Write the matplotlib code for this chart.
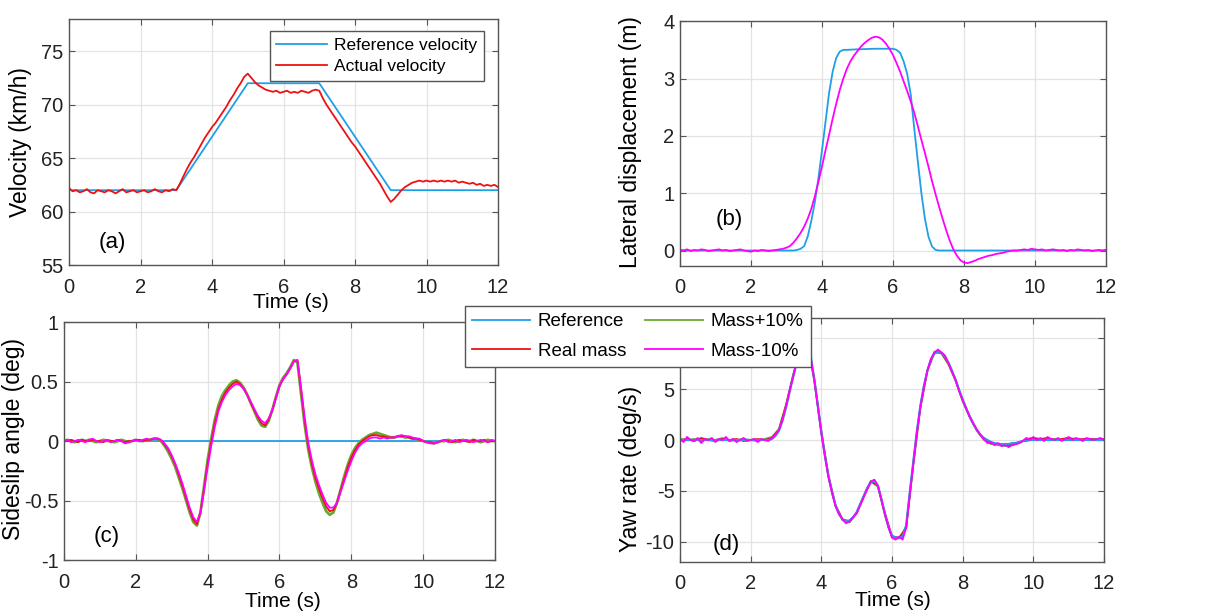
import numpy as np
import matplotlib
matplotlib.use('Agg')
import matplotlib.pyplot as plt

plt.rcParams['font.family'] = ['Liberation Sans', 'DejaVu Sans']
plt.rcParams['axes.unicode_minus'] = False

# time base, 0.1 s samples
t = np.round(np.arange(121) * 0.1, 1)
# coarse time base, 0.2 s samples
tc = np.round(np.arange(61) * 0.2, 1)

# (a) velocity
vel_ref_t = [0, 3, 5, 7, 9, 12]
vel_ref = [62, 62, 72, 72, 62, 62]
vel_start = 55.0
vel_act = [62.2, 61.9, 62.0, 61.8, 61.9, 62.1, 61.8, 61.7, 62.0, 61.9,
           61.8, 62.0, 61.9, 61.7, 61.9, 62.1, 61.8, 61.9, 62.0, 61.8,
           61.9, 62.0, 61.8, 61.9, 62.1, 61.9, 61.8, 62.0, 61.9, 62.1,
           62.0,
           62.6, 63.3, 64.0, 64.6, 65.1, 65.7, 66.3, 66.9, 67.4, 67.9,
           68.3, 68.8, 69.3, 69.8, 70.4, 70.9, 71.5, 72.0, 72.6, 72.9,
           72.5, 72.1, 71.8, 71.6, 71.4, 71.3, 71.2, 71.3, 71.1, 71.2,
           71.3, 71.1, 71.2, 71.1, 71.3, 71.2, 71.1, 71.3, 71.4, 71.3,
           70.6, 70.0, 69.5, 69.0, 68.5, 68.0, 67.5, 67.0, 66.5, 66.1,
           65.6, 65.1, 64.6, 64.1, 63.6, 63.1, 62.6, 62.0, 61.4, 60.9,
           61.2, 61.6, 62.0, 62.3, 62.5, 62.7, 62.8, 62.9, 62.8, 62.9,
           62.8, 62.9, 62.8, 62.9, 62.8, 62.9, 62.8, 62.9, 62.7, 62.8,
           62.7, 62.6, 62.7, 62.5, 62.6, 62.4, 62.5, 62.4, 62.5, 62.3]

# (b) lateral displacement
lat_ref_t = [0, 3.2, 3.3, 3.4, 3.5, 3.6, 3.7, 3.8, 3.9, 4.0, 4.1, 4.2, 4.3, 4.4,
             4.5, 4.6, 4.7, 5.0, 5.5, 6.0, 6.1, 6.2, 6.3, 6.4, 6.5, 6.6, 6.7,
             6.8, 6.9, 7.0, 7.1, 7.2, 7.3, 12]
lat_ref = [0, 0, 0.01, 0.03, 0.08, 0.25, 0.52, 0.85, 1.27, 1.75, 2.25, 2.75,
           3.12, 3.36, 3.47, 3.5, 3.5, 3.51, 3.52, 3.52, 3.5, 3.45, 3.3, 3.08,
           2.72, 2.12, 1.55, 1.0, 0.55, 0.24, 0.07, 0.01, 0, 0]
lat_act = [0.01, 0.00, 0.02, -0.01, 0.01, 0.00, 0.02, 0.01, -0.01, 0.00,
           0.01, 0.02, 0.00, 0.01, -0.01, 0.00, 0.01, 0.02, 0.00, -0.01,
           -0.02, 0.00, -0.01, 0.01, 0.00, -0.01, 0.00, 0.01, 0.02, 0.03,
           0.05, 0.08, 0.14, 0.22, 0.31, 0.42, 0.56, 0.73, 0.95, 1.2,
           1.47, 1.75, 2.02, 2.3, 2.56, 2.8, 3.0, 3.17, 3.3, 3.4,
           3.48, 3.56, 3.62, 3.67, 3.71, 3.73, 3.72, 3.68, 3.61, 3.52,
           3.41, 3.27, 3.12, 2.95, 2.78, 2.6, 2.4, 2.17, 1.93, 1.7,
           1.46, 1.21, 0.98, 0.76, 0.55, 0.35, 0.17, 0.02, -0.09, -0.17,
           -0.21, -0.22, -0.2, -0.18, -0.15, -0.13, -0.11, -0.09, -0.08, -0.06,
           -0.05, -0.04, -0.02, -0.01, 0.0, 0.0, 0.01, 0.02, 0.01, 0.03,
           0.02,
           0.01, 0.02, 0.00, 0.01, 0.02, 0.01, 0.00, 0.01, -0.01, 0.01,
           0.00, 0.02, 0.01, 0.00, 0.01, -0.01, 0.00, 0.01, 0.00, 0.01]

# (c) sideslip angle
beta_ref = [0.0] * 121
beta_real = [0.00, 0.00, 0.01, 0.00, -0.01, 0.01, 0.00, 0.00, 0.01, 0.00,
             0.00, -0.01, 0.01, 0.00, 0.00, 0.01, 0.00, -0.01, 0.00, 0.00,
             0.01, 0.01, 0.00, 0.01, 0.01, 0.02,
             0.02, 0.01, -0.03, -0.07, -0.13, -0.2, -0.29, -0.38, -0.48, -0.58,
             -0.66, -0.7, -0.6, -0.4, -0.19, -0.01, 0.15, 0.27, 0.35, 0.41,
             0.45, 0.48, 0.5, 0.48, 0.44, 0.39, 0.32, 0.26, 0.2, 0.15,
             0.13, 0.18, 0.26, 0.36, 0.46, 0.52, 0.56, 0.61, 0.67, 0.68,
             0.43, 0.17, -0.04, -0.19, -0.31, -0.4, -0.48, -0.55, -0.59, -0.58,
             -0.52, -0.42, -0.32, -0.22, -0.14, -0.08, -0.03, 0.0, 0.02, 0.04,
             0.05, 0.05, 0.04, 0.04, 0.03, 0.03, 0.03, 0.04, 0.04, 0.04,
             0.03, 0.02, 0.02, 0.01, 0.0, -0.01, -0.01, -0.02, -0.01, 0.0,
             0.01, 0.0, -0.01, 0.0, 0.01, 0.0, 0.0, -0.01, 0.01, 0.0,
             0.0, 0.01, -0.01, 0.0, 0.0]
beta_plus = [0.00, 0.01, 0.00, -0.01, 0.00, 0.01, 0.00, 0.01, 0.00, -0.01,
             0.00, 0.01, 0.00, 0.00, -0.01, 0.00, 0.01, 0.00, -0.01, 0.00,
             0.01, 0.00, 0.00, 0.01, 0.01, 0.02,
             0.02, 0.0, -0.04, -0.09, -0.15, -0.22, -0.31, -0.4, -0.5, -0.6,
             -0.68, -0.71, -0.6, -0.38, -0.16, 0.02, 0.18, 0.3, 0.38, 0.43,
             0.47, 0.5, 0.51, 0.49, 0.45, 0.39, 0.32, 0.25, 0.18, 0.13,
             0.12, 0.17, 0.26, 0.37, 0.47, 0.53, 0.57, 0.62, 0.68, 0.66,
             0.4, 0.14, -0.07, -0.22, -0.34, -0.44, -0.52, -0.59, -0.62, -0.6,
             -0.52, -0.41, -0.3, -0.2, -0.12, -0.06, -0.02, 0.01, 0.03, 0.05,
             0.06, 0.07, 0.06, 0.05, 0.04, 0.03, 0.03, 0.04, 0.04, 0.03,
             0.03, 0.02, 0.02, 0.01, 0.0, -0.01, -0.01, -0.02, -0.01, 0.0,
             0.0, 0.01, 0.0, -0.01, 0.0, 0.01, 0.0, 0.0, 0.01, 0.0,
             -0.01, 0.0, 0.01, 0.0, 0.0]
beta_minus = [0.00, 0.01, -0.01, 0.00, 0.01, 0.00, -0.01, 0.01, 0.02, 0.00,
              -0.01, 0.00, 0.01, -0.01, 0.00, 0.01, 0.00, -0.02, -0.01, 0.00,
              0.01, 0.00, 0.01, 0.02, 0.01, 0.02,
              0.02, 0.01, -0.02, -0.06, -0.12, -0.19, -0.27, -0.36, -0.46, -0.56,
              -0.64, -0.68, -0.6, -0.42, -0.22, -0.04, 0.12, 0.25, 0.33, 0.39,
              0.43, 0.46, 0.48, 0.47, 0.44, 0.39, 0.33, 0.27, 0.21, 0.17,
              0.15, 0.19, 0.26, 0.36, 0.46, 0.52, 0.56, 0.61, 0.67, 0.68,
              0.45, 0.2, -0.01, -0.16, -0.28, -0.37, -0.45, -0.52, -0.56, -0.56,
              -0.52, -0.43, -0.34, -0.25, -0.17, -0.1, -0.05, -0.02, 0.0, 0.02,
              0.03, 0.03, 0.02, 0.03, 0.02, 0.03, 0.03, 0.04, 0.05, 0.04,
              0.04, 0.03, 0.02, 0.02, 0.0, -0.01, -0.02, -0.02, -0.01, 0.0,
              0.01, -0.01, 0.0, 0.01, -0.01, 0.0, 0.01, 0.0, -0.01, 0.0,
              0.01, 0.0, -0.01, 0.01, 0.0]
beta_ticks = [-1, -0.5, 0, 0.5, 1]
beta_labels = ['-1', '-0.5', '0', '0.5', '1']

# (d) yaw rate
yaw_ref = [0.0] * 26 + [
    0.1, 0.4, 0.9, 1.9, 3.2, 4.7, 6.2, 7.6, 8.8, 9.6,
    9.5, 8.2, 6.0, 3.4, 0.8, -1.5, -3.5, -5.1, -6.4, -7.3,
    -7.8, -8.0, -7.9, -7.6, -7.1, -6.3, -5.5, -4.7, -4.2, -4.0,
    -4.5, -5.8, -7.3, -8.6, -9.4, -9.6, -9.6, -9.5, -8.4, -5.2,
    -2.2, 0.8, 3.3, 5.3, 6.8, 7.9, 8.5, 8.7, 8.6, 8.2,
    7.6, 6.8, 5.9, 4.9, 4.0, 3.1, 2.3, 1.6, 1.0, 0.5,
    0.2, 0.0, -0.2, -0.3, -0.4, -0.4, -0.4, -0.4, -0.3, -0.3,
    -0.2, -0.1, -0.1, 0.0, 0.0, 0.0, 0.0, 0.0, 0.0, 0.0] + [0.0] * 15
yaw_real = [0.0, 0.1, -0.1, 0.2, 0.0, -0.1, 0.1, 0.0, 0.1, -0.1, 0.0, 0.1, 0.0,
            0.2, 1.0, 3.4, 6.3, 8.9, 9.6, 6.0, 0.8,
            -3.5, -6.4, -7.8, -8.0, -7.2,
            -5.6, -4.1, -4.5, -7.2, -9.5,
            -9.6, -8.7, -2.5, 3.1, 6.8,
            8.6, 8.6, 7.5, 5.9, 3.9,
            2.3, 1.0, 0.1, -0.3, -0.4,
            -0.5, -0.5, -0.3, 0.1, 0.2,
            0.1, 0.2, 0.0, 0.1, 0.2,
            0.0, 0.1, 0.1, 0.0, 0.1]
yaw_plus = [0.1, 0.0, 0.1, -0.1, 0.1, 0.0, 0.2, -0.1, 0.0, 0.1, 0.0, -0.1, 0.1,
            0.3, 1.1, 3.5, 6.4, 9.0, 9.5, 5.8, 0.6,
            -3.7, -6.5, -7.9, -8.1, -7.1,
            -5.5, -4.0, -4.6, -7.4, -9.6,
            -9.7, -8.5, -2.3, 3.3, 6.9,
            8.7, 8.5, 7.4, 5.8, 3.8,
            2.2, 0.9, 0.0, -0.4, -0.5,
            -0.6, -0.4, -0.2, 0.0, 0.2,
            0.0, 0.1, 0.1, 0.0, 0.2,
            0.1, 0.0, 0.1, 0.1, 0.0]
yaw_minus = [0.1, -0.2, 0.3, 0.0, -0.1, 0.2, -0.3, 0.1, 0.0, 0.2,
             -0.2, 0.1, 0.0, 0.3, -0.1, 0.1, -0.2, 0.0, 0.2, -0.1,
             0.0, 0.1, -0.2, 0.1, 0.0, -0.1,
             0.2, 0.5, 1.0, 2.0, 3.3, 4.8, 6.2, 7.6, 8.8, 9.7,
             9.5, 8.1, 5.9, 3.3, 0.7, -1.6, -3.6, -5.2, -6.5, -7.3,
             -7.8, -8.2, -8.0, -7.6, -7.2, -6.4, -5.6, -4.8, -4.1, -3.9,
             -4.5, -5.9, -7.3, -8.6, -9.6, -9.8, -9.5, -9.8, -8.6, -5.4,
             -2.4, 0.7, 3.2, 5.2, 6.8, 8.0, 8.6, 8.9, 8.6, 8.3,
             7.5, 6.7, 5.9, 4.8, 3.9, 3.1, 2.3, 1.6, 1.0, 0.5,
             0.1, -0.3, -0.2, -0.5, -0.3, -0.6, -0.5, -0.7, -0.5, -0.4,
             -0.3, -0.1, 0.2, 0.0, 0.3, 0.0, 0.2, -0.1, 0.3, 0.1,
             0.0, 0.2, -0.1, 0.1, 0.3, 0.0, 0.2, 0.1, -0.1, 0.2,
             0.1, 0.0, 0.1, 0.2, 0.0]

c_ref = '#1fa0e6'
c_real = '#ee1111'
c_plus = '#6aa834'
c_minus = '#ff00ff'

fig = plt.figure(figsize=(12.07, 6.15), dpi=100)
ax_a = fig.add_axes([0.0572, 0.569, 0.3554, 0.400])
ax_b = fig.add_axes([0.5634, 0.5675, 0.3529, 0.398])
ax_c = fig.add_axes([0.0530, 0.0894, 0.3571, 0.387])
ax_d = fig.add_axes([0.5634, 0.0862, 0.3513, 0.3967])


def style(ax):
    ax.set_xlim(0, 12)
    ax.set_xticks([0, 2, 4, 6, 8, 10, 12])
    ax.grid(True, color='#e3e3e3', linewidth=0.9)
    ax.set_axisbelow(True)
    for s in ax.spines.values():
        s.set_color('#555555')
        s.set_linewidth(1.0)
    ax.tick_params(direction='in', length=4, width=0.8, colors='#555555',
                   labelcolor='#222222', labelsize=14.5, top=True, right=True)
    ax.tick_params(axis='x', pad=9)
    ax.tick_params(axis='y', pad=4)


for ax in (ax_a, ax_b, ax_c, ax_d):
    style(ax)

lw = 1.3

# (a)
ax_a.plot(vel_ref_t, vel_ref, color=c_ref, lw=lw, label='Reference velocity')
ax_a.plot([0] + list(t), [vel_start] + vel_act, color=c_real, lw=lw,
          label='Actual velocity')
ax_a.set_ylim(55, 78)
ax_a.set_yticks([55, 60, 65, 70, 75])
ax_a.set_ylabel('Velocity (km/h)', fontsize=16.5)
ax_a.yaxis.set_label_coords(-0.086, 0.5)
ax_a.set_xlabel('Time (s)', fontsize=15)
ax_a.xaxis.set_label_coords(0.517, -0.112)
ax_a.text(0.1, 0.09, '(a)', transform=ax_a.transAxes, fontsize=16,
          ha='center', va='center')
leg_a = ax_a.legend(loc='upper right', bbox_to_anchor=(0.967, 0.951),
                    borderaxespad=0, fontsize=12.5, handlelength=2.9,
                    handletextpad=0.4, labelspacing=0.3, fancybox=False,
                    framealpha=1, edgecolor='#555555', borderpad=0.4)
leg_a.get_frame().set_linewidth(1.0)

# (b)
ax_b.plot(lat_ref_t, lat_ref, color=c_ref, lw=lw)
ax_b.plot(t, lat_act, color=c_minus, lw=lw)
ax_b.set_ylim(-0.27, 4)
ax_b.set_yticks([0, 1, 2, 3, 4])
ax_b.set_ylabel('Lateral displacement (m)', fontsize=16.5)
ax_b.yaxis.set_label_coords(-0.09, 0.505)
ax_b.text(0.115, 0.19, '(b)', transform=ax_b.transAxes, fontsize=16,
          ha='center', va='center')

# (c)
h_ref, = ax_c.plot(t, beta_ref, color=c_ref, lw=lw, label='Reference')
h_plus, = ax_c.plot(t, beta_plus, color=c_plus, lw=2.0, label='Mass+10%')
h_real, = ax_c.plot(t, beta_real, color=c_real, lw=lw, label='Real mass')
h_minus, = ax_c.plot(t, beta_minus, color=c_minus, lw=lw, label='Mass-10%')
ax_c.set_ylim(-1, 1)
ax_c.set_yticks(beta_ticks, beta_labels)
ax_c.set_ylabel('Sideslip angle (deg)', fontsize=16.5)
ax_c.yaxis.set_label_coords(-0.09, 0.51)
ax_c.set_xlabel('Time (s)', fontsize=15)
ax_c.xaxis.set_label_coords(0.508, -0.135)
ax_c.text(0.1, 0.097, '(c)', transform=ax_c.transAxes, fontsize=16,
          ha='center', va='center')

# (d)
ax_d.plot(tc, yaw_plus, color=c_plus, lw=lw)
ax_d.plot(tc, yaw_real, color=c_real, lw=lw)
ax_d.plot(t, yaw_ref, color=c_ref, lw=1.6)
ax_d.plot(t, yaw_minus, color=c_minus, lw=lw)
ax_d.set_ylim(-12, 12)
ax_d.set_yticks([-10, -5, 0, 5, 10])
ax_d.set_ylabel('Yaw rate (deg/s)', fontsize=16.5)
ax_d.yaxis.set_label_coords(-0.09, 0.38)
ax_d.set_xlabel('Time (s)', fontsize=15)
ax_d.xaxis.set_label_coords(0.503, -0.12)
ax_d.text(0.11, 0.07, '(d)', transform=ax_d.transAxes, fontsize=16,
          ha='center', va='center')

leg = fig.legend([h_ref, h_real, h_plus, h_minus],
                 ['Reference', 'Real mass', 'Mass+10%', 'Mass-10%'],
                 ncol=2, loc='upper left', bbox_to_anchor=(0.385, 0.503),
                 fontsize=13.5, handlelength=3.1, handletextpad=0.4,
                 columnspacing=1.0, labelspacing=0.65, fancybox=False,
                 framealpha=1, edgecolor='#555555', borderpad=0.4,
                 borderaxespad=0)
leg.get_frame().set_linewidth(1.0)
for line in leg.get_lines():
    line.set_linewidth(1.3)

fig.savefig('out.png', dpi=100)
